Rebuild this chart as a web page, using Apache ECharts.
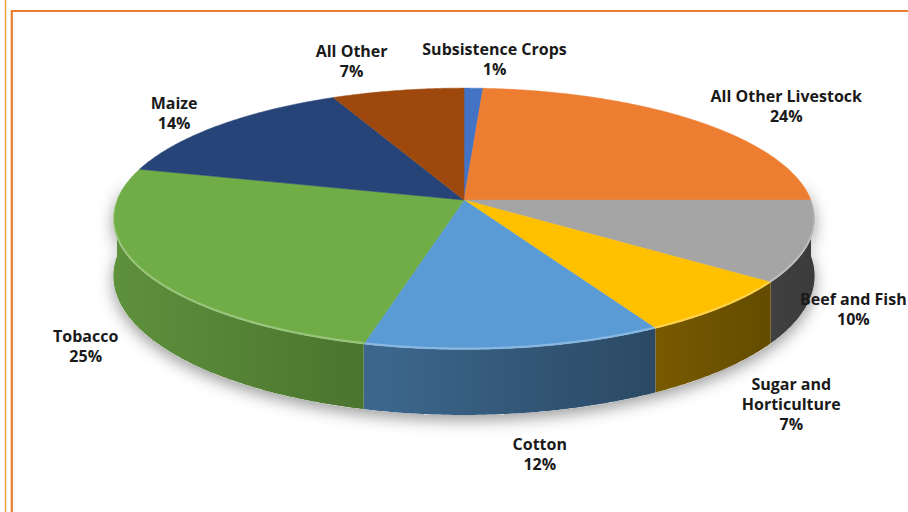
<!DOCTYPE html>
<html><head><meta charset="utf-8">
<script src="https://cdn.jsdelivr.net/npm/echarts@6/dist/echarts.min.js"></script>
<style>html,body{margin:0;padding:0;background:#fff}#c{width:908px;height:512px}</style>
</head><body><div id="c"></div>
<script>
// ---- data ----
const categories = ['Subsistence Crops','All Other Livestock','Beef and Fish','Sugar and Horticulture','Cotton','Tobacco','Maize','All Other'];
const shares = [1, 24, 10, 7, 12, 25, 14, 7];
const labelNames = ['Subsistence Crops','All Other Livestock','Beef and Fish','Sugar and\nHorticulture','Cotton','Tobacco','Maize','All Other'];
const colors = ['#4472C4','#ED7D31','#A5A5A5','#FFC000','#5B9BD5','#70AD47','#264478','#9E480E'];
// label nudges (px) from each slice's outer edge point
const labelOffsets = [[21,-29],[92,-14],[44,68],[70,96],[25,106],[-56,76],[-45,-12],[-46,-29]];

// ---- geometry (3D perspective pie) ----
const G = {cx:464, cy:200, rx:347, ry:128, k:0.144, d0:56};
const total = shares.reduce((a,b)=>a+b,0);
const starts = []; { let acc=0; shares.forEach(v=>{starts.push(acc/total*2*Math.PI); acc+=v;}); }
function proj(t){
  const u=Math.sin(t), v=-Math.cos(t), s=1/(1-G.k*v);
  return [G.cx+G.rx*u*s, G.cy+G.ry*v*s, s];
}
function arcPts(a,b){
  const n=Math.max(2,Math.ceil((b-a)/(Math.PI/360)));
  const pts=[];
  for(let i=0;i<=n;i++){pts.push(proj(a+(b-a)*i/n));}
  return pts;
}
function shade(hex,f){
  const n=parseInt(hex.slice(1),16);
  const r=Math.round(((n>>16)&255)*f), g=Math.round(((n>>8)&255)*f), b=Math.round((n&255)*f);
  return 'rgb('+r+','+g+','+b+')';
}
function shadeFactor(x){ return 0.84 - 0.48*(x-114)/700; }

function wallPoly(a,b){
  const top=arcPts(a,b);
  const pts=top.map(p=>[p[0],p[1]]);
  for(let i=top.length-1;i>=0;i--){const p=top[i]; pts.push([p[0], p[1]+G.d0*p[2]]);}
  return pts;
}

const chart = echarts.init(document.getElementById('c'), null, {renderer:'svg'});
chart.setOption({
  backgroundColor:'#fff',
  animation:false,
  graphic:[
    {type:'line', shape:{x1:5.5,y1:0,x2:5.5,y2:512}, style:{stroke:'#F5A742', lineWidth:1.5}, z:100},
    {type:'rect', shape:{x:11.8,y:11,width:920,height:520}, style:{fill:null, stroke:'#ED7D31', lineWidth:2.2}, z:100}
  ],
  series:[
    { // ground shadow
      type:'custom', coordinateSystem:'none', z:1, silent:true,
      data:[0],
      renderItem:function(params, api){
        return {type:'polygon', shape:{points:wallPoly(Math.PI/2-0.15, 3*Math.PI/2+0.15)},
          style:{fill:'#fff', shadowBlur:16, shadowColor:'rgba(0,0,0,0.4)', shadowOffsetY:5}};
      }
    },
    { // side walls
      type:'custom', coordinateSystem:'none', z:2, silent:true,
      data:shares,
      renderItem:function(params, api){
        const i=params.dataIndex;
        const a=starts[i], b=a+api.value(0)/total*2*Math.PI;
        const lo=Math.max(a,Math.PI/2), hi=Math.min(b,3*Math.PI/2);
        if(hi<=lo) return null;
        const pts=wallPoly(lo,hi);
        const xs=pts.map(p=>p[0]); const x0=Math.min(...xs), x1=Math.max(...xs);
        return {type:'polygon', shape:{points:pts},
          style:{fill:{type:'linear', x:x0, y:0, x2:x1, y2:0, global:true,
            colorStops:[{offset:0,color:shade(colors[i],shadeFactor(x0))},{offset:1,color:shade(colors[i],shadeFactor(x1))}]},
            stroke:null}};
      }
    },
    { // top faces + labels
      type:'custom', coordinateSystem:'none', z:3, silent:true,
      data:shares,
      renderItem:function(params, api){
        const i=params.dataIndex;
        const val=api.value(0);
        const a=starts[i], b=a+val/total*2*Math.PI;
        const arc=arcPts(a,b).map(p=>[p[0],p[1]]);
        const pts=[[G.cx,G.cy]].concat(arc);
        const m=proj((a+b)/2);
        const off=labelOffsets[i];
        const children=[
          {type:'polygon', shape:{points:pts}, style:{fill:colors[i], stroke:colors[i], lineWidth:0.5}}
        ];
        const lo=Math.max(a,Math.PI/2), hi=Math.min(b,3*Math.PI/2);
        if(hi>lo){
          children.push({type:'polyline', shape:{points:arcPts(lo,hi).map(p=>[p[0],p[1]-1])},
            style:{stroke:'rgba(255,255,255,0.28)', lineWidth:2, fill:null}});
        }
        children.push({type:'text', x:m[0]+off[0], y:m[1]+off[1],
            style:{text:labelNames[i]+'\n'+Math.round(val/total*100)+'%', align:'center', verticalAlign:'middle',
              font:'bold 16px "Open Sans"', lineHeight:20, fill:'#1a1a1a'}});
        return {type:'group', children:children};
      }
    }
  ]
});
</script>
</body></html>
